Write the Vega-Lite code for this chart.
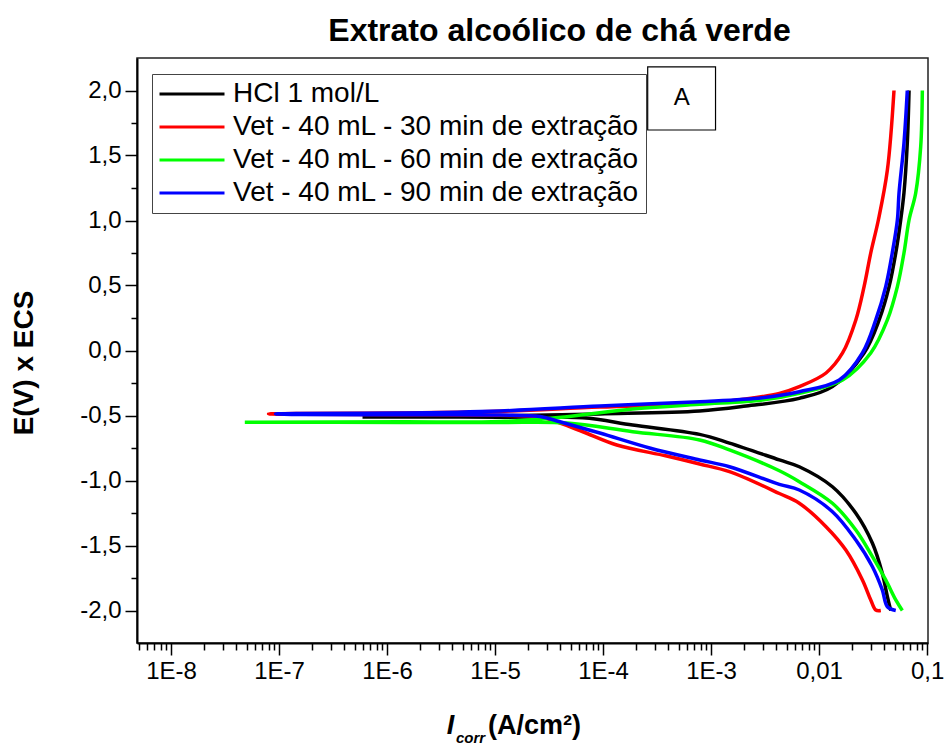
{
  "$schema": "https://vega.github.io/schema/vega-lite/v6.json",
  "autosize": {"type": "none"},
  "padding": {"left": 137, "top": 58, "right": 16, "bottom": 101},
  "width": 791,
  "height": 585,
  "background": "white",
  "title": {"text": "Extrato alcoólico de chá verde", "font": "Liberation Sans", "fontSize": 32, "fontWeight": "bold", "color": "black", "anchor": "middle", "frame": "group", "dx": 27, "dy": 35, "offset": 20, "baseline": "alphabetic"},
  "config": {
    "view": {"stroke": "#222", "strokeWidth": 1.5},
    "axis": {"grid": false, "domainColor": "black", "domainWidth": 2, "tickColor": "black", "tickWidth": 1.5, "labelFont": "Liberation Sans", "labelFontSize": 24, "labelColor": "black", "titleFont": "Liberation Sans", "titleColor": "black", "titleFontWeight": "bold"},
    "legend": {"orient": "none", "legendX": 15, "legendY": 16, "symbolType": "M-5,0L5,0", "symbolSize": 169, "symbolStrokeWidth": 3, "symbolOffset": 20, "labelOffset": 27, "labelFont": "Liberation Sans", "labelFontSize": 28, "labelColor": "black", "labelLimit": 600, "padding": 6, "rowPadding": 5, "strokeColor": "#444", "fillColor": "white"}
  },
  "data": {"values": [
    {"s": "HCl 1 mol/L", "i": 1, "I": 0.0461, "E": -2.0},
    {"s": "HCl 1 mol/L", "i": 2, "I": 0.0429, "E": -1.894},
    {"s": "HCl 1 mol/L", "i": 3, "I": 0.0385, "E": -1.714},
    {"s": "HCl 1 mol/L", "i": 4, "I": 0.0312, "E": -1.483},
    {"s": "HCl 1 mol/L", "i": 5, "I": 0.0219, "E": -1.252},
    {"s": "HCl 1 mol/L", "i": 6, "I": 0.0133, "E": -1.048},
    {"s": "HCl 1 mol/L", "i": 7, "I": 0.00656, "E": -0.894},
    {"s": "HCl 1 mol/L", "i": 8, "I": 0.00429, "E": -0.842},
    {"s": "HCl 1 mol/L", "i": 9, "I": 0.00148, "E": -0.712},
    {"s": "HCl 1 mol/L", "i": 10, "I": 0.000783, "E": -0.645},
    {"s": "HCl 1 mol/L", "i": 11, "I": 0.000188, "E": -0.573},
    {"s": "HCl 1 mol/L", "i": 12, "I": 0.000065, "E": -0.518},
    {"s": "HCl 1 mol/L", "i": 13, "I": 0.0000111, "E": -0.513},
    {"s": "HCl 1 mol/L", "i": 14, "I": 0.00000133, "E": -0.512},
    {"s": "HCl 1 mol/L", "i": 15, "I": 0.000000593, "E": -0.511},
    {"s": "HCl 1 mol/L", "i": 16, "I": 0.00000133, "E": -0.508},
    {"s": "HCl 1 mol/L", "i": 17, "I": 0.0000111, "E": -0.504},
    {"s": "HCl 1 mol/L", "i": 18, "I": 0.0000933, "E": -0.488},
    {"s": "HCl 1 mol/L", "i": 19, "I": 0.000783, "E": -0.465},
    {"s": "HCl 1 mol/L", "i": 20, "I": 0.00211, "E": -0.427},
    {"s": "HCl 1 mol/L", "i": 21, "I": 0.00656, "E": -0.368},
    {"s": "HCl 1 mol/L", "i": 22, "I": 0.0133, "E": -0.278},
    {"s": "HCl 1 mol/L", "i": 23, "I": 0.0261, "E": -0.019},
    {"s": "HCl 1 mol/L", "i": 24, "I": 0.036, "E": 0.235},
    {"s": "HCl 1 mol/L", "i": 25, "I": 0.0445, "E": 0.491},
    {"s": "HCl 1 mol/L", "i": 26, "I": 0.0513, "E": 0.75},
    {"s": "HCl 1 mol/L", "i": 27, "I": 0.057, "E": 1.004},
    {"s": "HCl 1 mol/L", "i": 28, "I": 0.0611, "E": 1.212},
    {"s": "HCl 1 mol/L", "i": 29, "I": 0.0656, "E": 1.596},
    {"s": "HCl 1 mol/L", "i": 30, "I": 0.0681, "E": 2.0},

    {"s": "Vet - 40 mL - 30 min de extração", "i": 1, "I": 0.0373, "E": -2.0},
    {"s": "Vet - 40 mL - 30 min de extração", "i": 2, "I": 0.0335, "E": -1.996},
    {"s": "Vet - 40 mL - 30 min de extração", "i": 3, "I": 0.0301, "E": -1.919},
    {"s": "Vet - 40 mL - 30 min de extração", "i": 4, "I": 0.0252, "E": -1.765},
    {"s": "Vet - 40 mL - 30 min de extração", "i": 5, "I": 0.0177, "E": -1.535},
    {"s": "Vet - 40 mL - 30 min de extração", "i": 6, "I": 0.0116, "E": -1.355},
    {"s": "Vet - 40 mL - 30 min de extração", "i": 7, "I": 0.00656, "E": -1.175},
    {"s": "Vet - 40 mL - 30 min de extração", "i": 8, "I": 0.00429, "E": -1.1},
    {"s": "Vet - 40 mL - 30 min de extração", "i": 9, "I": 0.00148, "E": -0.932},
    {"s": "Vet - 40 mL - 30 min de extração", "i": 10, "I": 0.000783, "E": -0.873},
    {"s": "Vet - 40 mL - 30 min de extração", "i": 11, "I": 0.000388, "E": -0.812},
    {"s": "Vet - 40 mL - 30 min de extração", "i": 12, "I": 0.000134, "E": -0.727},
    {"s": "Vet - 40 mL - 30 min de extração", "i": 13, "I": 0.000065, "E": -0.625},
    {"s": "Vet - 40 mL - 30 min de extração", "i": 14, "I": 0.0000399, "E": -0.558},
    {"s": "Vet - 40 mL - 30 min de extração", "i": 15, "I": 0.0000261, "E": -0.512},
    {"s": "Vet - 40 mL - 30 min de extração", "i": 16, "I": 0.0000111, "E": -0.498},
    {"s": "Vet - 40 mL - 30 min de extração", "i": 17, "I": 0.00000133, "E": -0.494},
    {"s": "Vet - 40 mL - 30 min de extração", "i": 18, "I": 0.000000158, "E": -0.491},
    {"s": "Vet - 40 mL - 30 min de extração", "i": 19, "I": 0.00000008, "E": -0.488},
    {"s": "Vet - 40 mL - 30 min de extração", "i": 20, "I": 0.000000158, "E": -0.485},
    {"s": "Vet - 40 mL - 30 min de extração", "i": 21, "I": 0.00000133, "E": -0.481},
    {"s": "Vet - 40 mL - 30 min de extração", "i": 22, "I": 0.0000111, "E": -0.468},
    {"s": "Vet - 40 mL - 30 min de extração", "i": 23, "I": 0.0000933, "E": -0.435},
    {"s": "Vet - 40 mL - 30 min de extração", "i": 24, "I": 0.000783, "E": -0.41},
    {"s": "Vet - 40 mL - 30 min de extração", "i": 25, "I": 0.00211, "E": -0.373},
    {"s": "Vet - 40 mL - 30 min de extração", "i": 26, "I": 0.00429, "E": -0.33},
    {"s": "Vet - 40 mL - 30 min de extração", "i": 27, "I": 0.00656, "E": -0.278},
    {"s": "Vet - 40 mL - 30 min de extração", "i": 28, "I": 0.0116, "E": -0.173},
    {"s": "Vet - 40 mL - 30 min de extração", "i": 29, "I": 0.0165, "E": -0.019},
    {"s": "Vet - 40 mL - 30 min de extração", "i": 30, "I": 0.0219, "E": 0.235},
    {"s": "Vet - 40 mL - 30 min de extração", "i": 31, "I": 0.0261, "E": 0.491},
    {"s": "Vet - 40 mL - 30 min de extração", "i": 32, "I": 0.0301, "E": 0.75},
    {"s": "Vet - 40 mL - 30 min de extração", "i": 33, "I": 0.0354, "E": 1.004},
    {"s": "Vet - 40 mL - 30 min de extração", "i": 34, "I": 0.0429, "E": 1.388},
    {"s": "Vet - 40 mL - 30 min de extração", "i": 35, "I": 0.0494, "E": 2.0},

    {"s": "Vet - 40 mL - 60 min de extração", "i": 1, "I": 0.059, "E": -2.0},
    {"s": "Vet - 40 mL - 60 min de extração", "i": 2, "I": 0.0513, "E": -1.919},
    {"s": "Vet - 40 mL - 60 min de extração", "i": 3, "I": 0.0414, "E": -1.765},
    {"s": "Vet - 40 mL - 60 min de extração", "i": 4, "I": 0.0312, "E": -1.586},
    {"s": "Vet - 40 mL - 60 min de extração", "i": 5, "I": 0.0219, "E": -1.381},
    {"s": "Vet - 40 mL - 60 min de extração", "i": 6, "I": 0.0133, "E": -1.175},
    {"s": "Vet - 40 mL - 60 min de extração", "i": 7, "I": 0.00656, "E": -1.009},
    {"s": "Vet - 40 mL - 60 min de extração", "i": 8, "I": 0.00429, "E": -0.925},
    {"s": "Vet - 40 mL - 60 min de extração", "i": 9, "I": 0.00148, "E": -0.765},
    {"s": "Vet - 40 mL - 60 min de extração", "i": 10, "I": 0.000783, "E": -0.688},
    {"s": "Vet - 40 mL - 60 min de extração", "i": 11, "I": 0.000188, "E": -0.625},
    {"s": "Vet - 40 mL - 60 min de extração", "i": 12, "I": 0.0000463, "E": -0.558},
    {"s": "Vet - 40 mL - 60 min de extração", "i": 13, "I": 0.0000111, "E": -0.554},
    {"s": "Vet - 40 mL - 60 min de extração", "i": 14, "I": 0.00000133, "E": -0.553},
    {"s": "Vet - 40 mL - 60 min de extração", "i": 15, "I": 0.0000000482, "E": -0.552},
    {"s": "Vet - 40 mL - 60 min de extração", "i": 16, "I": 0.00000133, "E": -0.549},
    {"s": "Vet - 40 mL - 60 min de extração", "i": 17, "I": 0.0000111, "E": -0.546},
    {"s": "Vet - 40 mL - 60 min de extração", "i": 18, "I": 0.0000463, "E": -0.509},
    {"s": "Vet - 40 mL - 60 min de extração", "i": 19, "I": 0.000188, "E": -0.45},
    {"s": "Vet - 40 mL - 60 min de extração", "i": 20, "I": 0.000783, "E": -0.414},
    {"s": "Vet - 40 mL - 60 min de extração", "i": 21, "I": 0.00298, "E": -0.381},
    {"s": "Vet - 40 mL - 60 min de extração", "i": 22, "I": 0.00656, "E": -0.329},
    {"s": "Vet - 40 mL - 60 min de extração", "i": 23, "I": 0.0165, "E": -0.227},
    {"s": "Vet - 40 mL - 60 min de extração", "i": 24, "I": 0.0301, "E": -0.019},
    {"s": "Vet - 40 mL - 60 min de extração", "i": 25, "I": 0.0429, "E": 0.235},
    {"s": "Vet - 40 mL - 60 min de extração", "i": 26, "I": 0.0531, "E": 0.491},
    {"s": "Vet - 40 mL - 60 min de extração", "i": 27, "I": 0.0611, "E": 0.75},
    {"s": "Vet - 40 mL - 60 min de extração", "i": 28, "I": 0.0681, "E": 1.004},
    {"s": "Vet - 40 mL - 60 min de extração", "i": 29, "I": 0.0785, "E": 1.212},
    {"s": "Vet - 40 mL - 60 min de extração", "i": 30, "I": 0.0873, "E": 1.568},
    {"s": "Vet - 40 mL - 60 min de extração", "i": 31, "I": 0.0904, "E": 2.0},

    {"s": "Vet - 40 mL - 90 min de extração", "i": 1, "I": 0.0513, "E": -2.0},
    {"s": "Vet - 40 mL - 90 min de extração", "i": 2, "I": 0.0429, "E": -1.971},
    {"s": "Vet - 40 mL - 90 min de extração", "i": 3, "I": 0.0385, "E": -1.842},
    {"s": "Vet - 40 mL - 90 min de extração", "i": 4, "I": 0.0312, "E": -1.663},
    {"s": "Vet - 40 mL - 90 min de extração", "i": 5, "I": 0.0219, "E": -1.458},
    {"s": "Vet - 40 mL - 90 min de extração", "i": 6, "I": 0.0133, "E": -1.24},
    {"s": "Vet - 40 mL - 90 min de extração", "i": 7, "I": 0.00656, "E": -1.073},
    {"s": "Vet - 40 mL - 90 min de extração", "i": 8, "I": 0.00429, "E": -1.03},
    {"s": "Vet - 40 mL - 90 min de extração", "i": 9, "I": 0.00148, "E": -0.894},
    {"s": "Vet - 40 mL - 90 min de extração", "i": 10, "I": 0.000783, "E": -0.842},
    {"s": "Vet - 40 mL - 90 min de extração", "i": 11, "I": 0.00027, "E": -0.75},
    {"s": "Vet - 40 mL - 90 min de extração", "i": 12, "I": 0.0000933, "E": -0.635},
    {"s": "Vet - 40 mL - 90 min de extração", "i": 13, "I": 0.0000399, "E": -0.548},
    {"s": "Vet - 40 mL - 90 min de extração", "i": 14, "I": 0.0000261, "E": -0.508},
    {"s": "Vet - 40 mL - 90 min de extração", "i": 15, "I": 0.0000111, "E": -0.497},
    {"s": "Vet - 40 mL - 90 min de extração", "i": 16, "I": 0.00000133, "E": -0.495},
    {"s": "Vet - 40 mL - 90 min de extração", "i": 17, "I": 0.000000158, "E": -0.492},
    {"s": "Vet - 40 mL - 90 min de extração", "i": 18, "I": 0.000000093, "E": -0.488},
    {"s": "Vet - 40 mL - 90 min de extração", "i": 19, "I": 0.000000158, "E": -0.485},
    {"s": "Vet - 40 mL - 90 min de extração", "i": 20, "I": 0.00000133, "E": -0.481},
    {"s": "Vet - 40 mL - 90 min de extração", "i": 21, "I": 0.0000111, "E": -0.465},
    {"s": "Vet - 40 mL - 90 min de extração", "i": 22, "I": 0.0000933, "E": -0.427},
    {"s": "Vet - 40 mL - 90 min de extração", "i": 23, "I": 0.000783, "E": -0.394},
    {"s": "Vet - 40 mL - 90 min de extração", "i": 24, "I": 0.00298, "E": -0.363},
    {"s": "Vet - 40 mL - 90 min de extração", "i": 25, "I": 0.00656, "E": -0.317},
    {"s": "Vet - 40 mL - 90 min de extração", "i": 26, "I": 0.0154, "E": -0.227},
    {"s": "Vet - 40 mL - 90 min de extração", "i": 27, "I": 0.0252, "E": -0.019},
    {"s": "Vet - 40 mL - 90 min de extração", "i": 28, "I": 0.0335, "E": 0.235},
    {"s": "Vet - 40 mL - 90 min de extração", "i": 29, "I": 0.0414, "E": 0.491},
    {"s": "Vet - 40 mL - 90 min de extração", "i": 30, "I": 0.0476, "E": 0.75},
    {"s": "Vet - 40 mL - 90 min de extração", "i": 31, "I": 0.0531, "E": 1.004},
    {"s": "Vet - 40 mL - 90 min de extração", "i": 32, "I": 0.055, "E": 1.212},
    {"s": "Vet - 40 mL - 90 min de extração", "i": 33, "I": 0.0611, "E": 1.596},
    {"s": "Vet - 40 mL - 90 min de extração", "i": 34, "I": 0.0656, "E": 2.0}
  ]},
  "layer": [
    {
      "mark": {"type": "line", "strokeWidth": 3.5, "interpolate": "catmull-rom", "clip": true},
      "encoding": {
        "x": {"field": "I", "type": "quantitative",
          "scale": {"type": "log", "domain": [4.84e-9, 0.102], "nice": false},
          "axis": {"orient": "bottom", "values": [1e-8, 1e-7, 1e-6, 1e-5, 0.0001, 0.001, 0.01, 0.1], "tickSize": 12, "labelPadding": 4, "labelFlush": false, "labelOverlap": false,
            "labelExpr": "datum.value < 0.005 ? '1E-' + format(round(-log(datum.value)/LN10), 'd') : (datum.value < 0.05 ? '0,01' : '0,1')",
            "title": "(A/cm²)", "titleFontSize": 27, "titleX": 397, "titleY": 90, "titleAlign": "center", "titleBaseline": "alphabetic"}},
        "y": {"field": "E", "type": "quantitative",
          "scale": {"domain": [-2.25, 2.25], "nice": false, "zero": false},
          "axis": {"orient": "left", "values": [-2, -1.5, -1, -0.5, 0, 0.5, 1, 1.5, 2], "tickSize": 12, "labelPadding": 4,
            "labelExpr": "(datum.value < 0 ? '-' : '') + replace(format(abs(datum.value), '.1f'), '.', ',')",
            "title": "E(V) x ECS", "titleFontSize": 28, "titleX": -113, "titleY": 304.5, "titleAlign": "center", "titleBaseline": "middle", "titleAngle": -90}},
        "color": {"field": "s", "type": "nominal",
          "scale": {"domain": ["HCl 1 mol/L", "Vet - 40 mL - 30 min de extração", "Vet - 40 mL - 60 min de extração", "Vet - 40 mL - 90 min de extração"], "range": ["#000000", "#ff0000", "#00ff00", "#0000ff"]},
          "legend": {"title": null}},
        "order": {"field": "i", "type": "quantitative"}
      }
    },
    {
      "data": {"values": [{"label": "A"}]},
      "mark": {"type": "rect", "fill": "white", "stroke": "black", "strokeWidth": 1.2},
      "encoding": {
        "x": {"datum": 0.000259, "type": "quantitative",
          "scale": {"type": "log", "domain": [4.84e-9, 0.102], "nice": false},
          "axis": {"orient": "bottom", "values": [5e-9, 6e-9, 7e-9, 8e-9, 9e-9, 2e-8, 3e-8, 4e-8, 5e-8, 6e-8, 7e-8, 8e-8, 9e-8, 2e-7, 3e-7, 4e-7, 5e-7, 6e-7, 7e-7, 8e-7, 9e-7, 2e-6, 3e-6, 4e-6, 5e-6, 6e-6, 7e-6, 8e-6, 9e-6, 2e-5, 3e-5, 4e-5, 5e-5, 6e-5, 7e-5, 8e-5, 9e-5, 0.0002, 0.0003, 0.0004, 0.0005, 0.0006, 0.0007, 0.0008, 0.0009, 0.002, 0.003, 0.004, 0.005, 0.006, 0.007, 0.008, 0.009, 0.02, 0.03, 0.04, 0.05, 0.06, 0.07, 0.08, 0.09],
            "tickSize": 7, "labels": false, "domain": false,
            "title": "I", "titleFontSize": 27, "titleFontStyle": "italic", "titleX": 313, "titleY": 90, "titleAlign": "center", "titleBaseline": "alphabetic"}},
        "x2": {"datum": 0.0011},
        "y": {"datum": 1.696, "type": "quantitative",
          "scale": {"domain": [-2.25, 2.25], "nice": false, "zero": false},
          "axis": {"orient": "left", "values": [-1.75, -1.25, -0.75, -0.25, 0.25, 0.75, 1.25, 1.75], "tickSize": 6, "labels": false, "domain": false, "title": null}},
        "y2": {"datum": 2.181}
      }
    },
    {
      "data": {"values": [{"label": "A"}]},
      "mark": {"type": "text", "fontSize": 24, "font": "Liberation Sans", "color": "black", "baseline": "middle", "align": "center"},
      "encoding": {
        "x": {"datum": 0.000535, "type": "quantitative",
          "scale": {"type": "log", "domain": [4.84e-9, 0.102], "nice": false},
          "axis": {"orient": "bottom", "ticks": false, "labels": false, "domain": false,
            "title": "corr", "titleFontSize": 15, "titleFontStyle": "italic", "titleX": 333, "titleY": 99, "titleAlign": "center", "titleBaseline": "alphabetic"}},
        "y": {"datum": 1.94, "type": "quantitative",
          "scale": {"domain": [-2.25, 2.25], "nice": false, "zero": false},
          "axis": null},
        "text": {"field": "label"}
      }
    }
  ],
  "resolve": {"axis": {"x": "independent", "y": "independent"}}
}
